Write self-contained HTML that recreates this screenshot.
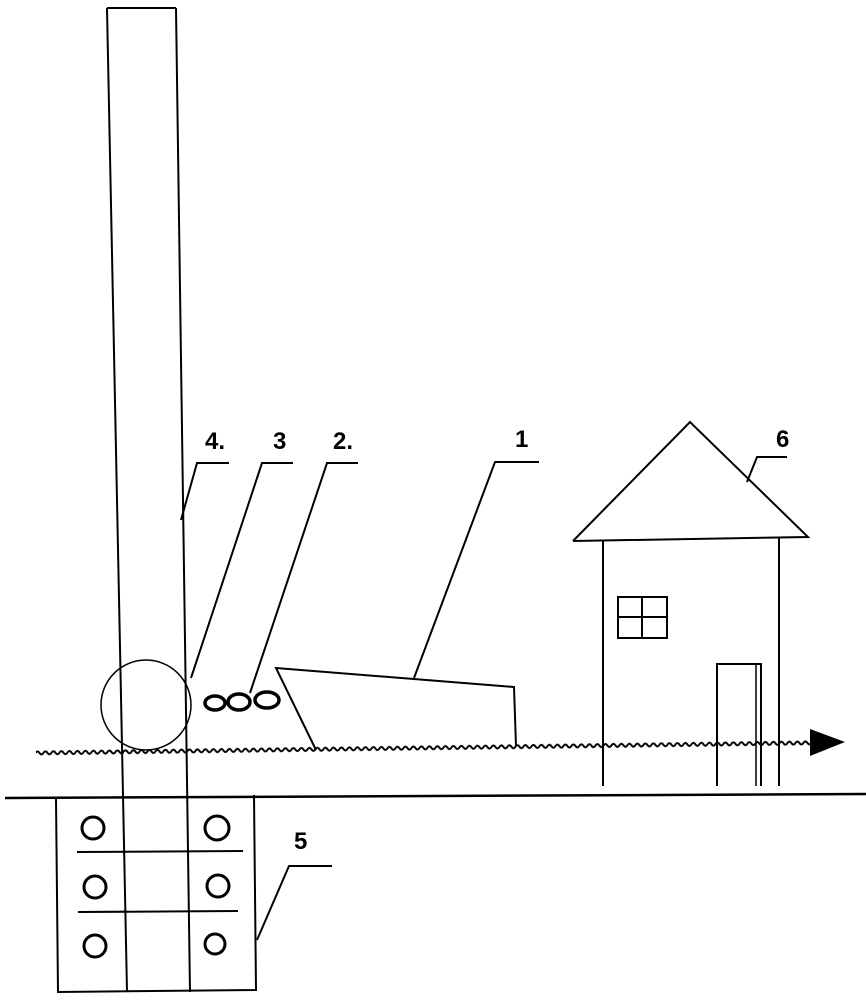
<!DOCTYPE html>
<html><head><style>body{margin:0;background:#fff}svg{display:block}</style></head><body>
<svg width="866" height="1000" viewBox="0 0 866 1000" xmlns="http://www.w3.org/2000/svg">
<defs>
<pattern id="wv" x="36" y="749" width="8" height="8" patternUnits="userSpaceOnUse">
<path d="M-0.5 4 q2 -3 4 0 t4 0 t4 0" fill="none" stroke="#000" stroke-width="2"/>
</pattern>
</defs>
<g fill="none" stroke="#000" stroke-width="2">
<line x1="107" y1="8" x2="176" y2="8"/>
<line x1="107" y1="8" x2="127" y2="992"/>
<line x1="176" y1="8" x2="190" y2="992"/>
<line x1="5" y1="798" x2="866" y2="794" stroke-width="2.5"/>
<polyline points="56,798 58,992 256,990 254,795"/>
<line x1="77" y1="852" x2="243" y2="851"/>
<line x1="78" y1="912" x2="238" y2="911"/>
<g stroke-width="3">
<circle cx="93" cy="828" r="11"/><circle cx="95" cy="887" r="11"/><circle cx="95" cy="946" r="11"/>
<circle cx="217" cy="828" r="12"/><circle cx="218" cy="886" r="11"/><circle cx="215" cy="944" r="10"/>
</g>
<circle cx="146" cy="705" r="45" stroke-width="1.5"/>
<g stroke-width="3.5"><ellipse cx="215" cy="703" rx="10" ry="7"/><ellipse cx="239" cy="702" rx="11" ry="8"/><ellipse cx="267" cy="700" rx="12" ry="8"/></g>
<polyline points="316,750 276,668 514,687 516,746"/>
<polyline points="603,541 603,786"/>
<polyline points="573,541 690,422 808,537 573,541"/>
<line x1="779" y1="538" x2="779" y2="786"/>
<rect x="618" y="597" width="49" height="41"/>
<line x1="642" y1="597" x2="642" y2="638"/><line x1="618" y1="617" x2="667" y2="617"/>
<polyline points="717,786 717,664 761,664 761,786"/>
<line x1="756" y1="664" x2="756" y2="786" stroke-width="1.5"/>
<polyline points="229,463 197,463 181,520"/>
<polyline points="293,463 262,463 191,678"/>
<polyline points="358,463 327,463 250,693"/>
<polyline points="539,462 495,462 414,678"/>
<polyline points="787,457 757,457 747,482"/>
<polyline points="332,866 289,866 257,940"/>
</g>
<rect x="36" y="749" width="776" height="8" fill="url(#wv)" transform="rotate(-0.75 36 753)"/>
<polygon points="810,729 845,742 810,756" fill="#000"/>
<g font-family="Liberation Sans, sans-serif" font-size="24" font-weight="bold">
<text x="205" y="449">4.</text><text x="273" y="449">3</text><text x="333" y="449">2.</text>
<text x="515" y="447">1</text><text x="776" y="447">6</text><text x="294" y="849">5</text>
</g>
</svg>
</body></html>
